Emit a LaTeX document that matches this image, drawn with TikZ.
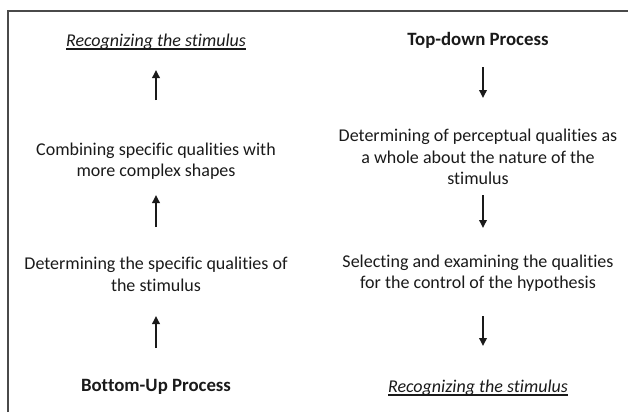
\documentclass[tikz,border=0pt]{standalone}
\usepackage{fontspec}
\setmainfont[Ligatures=NoCommon]{Carlito}
\usetikzlibrary{arrows.meta}
\definecolor{ink}{HTML}{1A1A1A}
\definecolor{rule}{HTML}{4A4A4A}
% italic text with a rule set just below its baseline
\newcommand{\goal}{\setbox0=\hbox{\itshape Recognizing the stimulus}%
  \rlap{\copy0}\rule[-2.8pt]{\wd0}{1.1pt}}
\begin{document}
\begin{tikzpicture}[x=1pt,y=-1pt,
  label/.style={inner sep=0pt,align=center,text=ink,
    font=\fontsize{18}{21.5}\selectfont},
  title/.style={label,font=\fontsize{18.8}{21.5}\selectfont\bfseries},
  flow/.style={draw=ink,line width=1.8pt,
    -{Triangle[width=7.5pt,length=8pt]}},
  frame/.style={draw=rule,line width=2pt}]
\useasboundingbox (0,0) rectangle (628,412);
% open frame along the top and left edges
\draw[frame] (8,412) -- (8,11) -- (628,11);

% bottom-up column
\node[label] (recL) at (156,42) {\goal};
\node[label] (comb) at (156,161) {Combining specific qualities with\\more complex shapes};
\node[label] (detL) at (156,274.5) {Determining the specific qualities of\\the stimulus};
\node[title] (bu) at (156,387) {Bottom-Up Process};

% top-down column
\node[title] (td) at (478,40) {Top-down Process};
\node[label] (detR) at (478,157) {Determining of perceptual qualities as\\a whole about the nature of the\\stimulus};
\node[label] (sel) at (478,273) {Selecting and examining the qualities\\for the control of the hypothesis};
\node[label] (recR) at (478,388) {\goal};

% upward arrows of the bottom-up column
\draw[flow] ([yshift=61pt]comb.center) -- ([yshift=-28pt]recL.center);
\draw[flow] ([yshift=47.5pt]detL.center) -- ([yshift=-34pt]comb.center);
\draw[flow] ([yshift=39pt]bu.center) -- ([yshift=-41.5pt]detL.center);

% downward arrows of the top-down column
\draw[flow] ([xshift=5pt,yshift=-27pt]td.center) -- ([xshift=5pt,yshift=59pt]detR.center);
\draw[flow] ([xshift=5pt,yshift=-38pt]detR.center) -- ([xshift=5pt,yshift=45pt]sel.center);
\draw[flow] ([xshift=5pt,yshift=-43pt]sel.center) -- ([xshift=5pt,yshift=42pt]recR.center);
\end{tikzpicture}
\end{document}
